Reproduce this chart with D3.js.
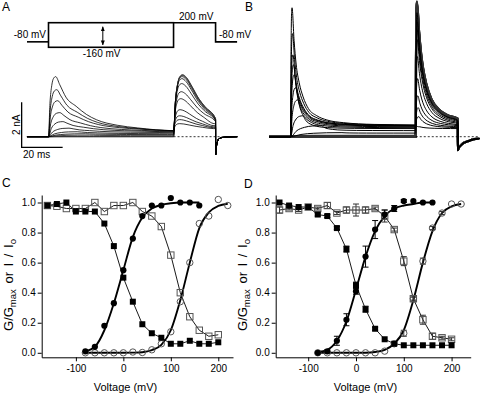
<!DOCTYPE html>
<html>
<head>
<meta charset="utf-8">
<script src="https://cdn.jsdelivr.net/npm/d3@7"></script>
<style>
  body { margin: 0; background: #fff; }
  svg { display: block; font-family: "Liberation Sans", Arial, Helvetica, sans-serif; }
</style>
</head>
<body>
<svg id="fig" width="480" height="394"></svg>
<script>
// ---------------- voltage protocol (mV, ms) ----------------
const holdingMv = -80;
const prepulseRangeMv = [-160, 200];
const testMv = 200;
const stepTimes = [0, 61, 81.5];      // prepulse on, test on, test off
const sweepSpan = [-10.5, 92];
const arrowAt = { t: 26.5, mv: [140, -125] };

// ---------------- panel A traces (nA), one entry per prepulse, low -> high voltage ----------------
const aPrePeak  = [0, 0, 0.02, 0.07, 0.13, 0.22, 0.38, 0.67, 1.07, 1.6, 2.09, 2.67];
const aPreTpk   = [20, 20, 25, 20, 18, 14, 10, 7, 5.5, 4.5, 4, 3.5];
const aPreEnd   = [0, 0, 0.02, 0.04, 0.09, 0.13, 0.18, 0.22, 0.24, 0.27, 0.27, 0.27];
const aTestPeak = [2.76, 2.73, 2.71, 2.67, 2.58, 2.36, 2.0, 1.69, 1.2, 0.93, 0.76, 0.58];
const aTestTpk  = [4.4, 4.4, 4.3, 4.2, 4.1, 4, 3.8, 3.5, 3.2, 3, 3, 3];
const aTestEnd  = [0.8, 0.8, 0.78, 0.76, 0.73, 0.71, 0.67, 0.58, 0.49, 0.44, 0.4, 0.36];
// shared time courses read from the largest sweep
const aPreDecayDt   = [0, 2, 5, 10, 15, 20, 30, 40, 58];
const aPreDecayFrac = [1, 0.85, 0.62, 0.45, 0.3, 0.2, 0.1, 0.05, 0];
const aTestDecayDt   = [0, 2, 4.6, 8, 11, 16.5];
const aTestDecayFrac = [1, 0.93, 0.73, 0.45, 0.27, 0];
const aTailDt = [0, 0.3, 0.8, 1.5, 3, 6, 10.5];
const aTailI  = [-0.8, -0.5, -0.25, -0.1, -0.04, -0.01, 0];

// ---------------- panel B traces (nA) ----------------
const bPrePeak  = [0, 0, 0, 0.02, 0.04, 0.18, 0.49, 0.93, 1.64, 2.18, 2.76, 3.2, 3.64, 4.58, 5.73];
const bPreTpk   = [10, 10, 10, 20, 25, 25, 15, 6, 3.5, 2.5, 1.8, 1.4, 1.1, 0.9, 0.65];
const bPreEnd   = [0, 0, 0, 0.02, 0.04, 0.16, 0.27, 0.36, 0.4, 0.44, 0.47, 0.49, 0.49, 0.51, 0.52];
const bTestPeak = [6.0, 6.0, 5.96, 5.91, 5.78, 5.51, 5.11, 4.76, 4.31, 3.56, 2.58, 1.82, 1.29, 0.89, 0.44];
const bTestTpk  = [0.6, 0.6, 0.6, 0.6, 0.6, 0.6, 0.7, 0.7, 0.8, 0.8, 0.9, 1, 1.2, 1.5, 2];
const bTestEnd  = [0.8, 0.8, 0.8, 0.78, 0.76, 0.73, 0.71, 0.67, 0.62, 0.58, 0.53, 0.49, 0.44, 0.4, 0.36];
const bPreDecayDt   = [0, 1, 2, 3.5, 5.4, 8, 12, 17, 25, 40, 60];
const bPreDecayFrac = [1, 0.72, 0.52, 0.36, 0.24, 0.14, 0.08, 0.043, 0.02, 0.005, 0];
const bTestDecayDt   = [0, 1, 2, 3, 4.5, 7, 11, 15, 20];
const bTestDecayFrac = [1, 0.75, 0.56, 0.43, 0.3, 0.17, 0.075, 0.03, 0];
const bTailDt = [0, 0.5, 1.5, 3, 5, 8, 10.5];
const bTailI  = [-0.6, -0.49, -0.38, -0.27, -0.2, -0.11, -0.08];

// rising phase shape (fraction of time-to-peak, fraction of amplitude)
const riseT = [0, 0.2, 0.45, 0.7, 1];
const riseI = [0, 0.55, 0.85, 0.97, 1];

// scale bar for A and B
const scaleBarOrigin = [-13.1, -0.47];   // ms, nA
const scaleBarSize = [20, 2];            // ms, nA

// ---------------- panels C and D ----------------
const sqMv = [-160, -140, -120, -100, -80, -60, -40, -20, 0, 20, 40, 60, 80, 100, 120, 140, 160, 180, 200];
const actMv = [-80, -60, -40, -20, 0, 20, 40, 60, 80, 100, 120, 140, 160];
const openMv = [-80, -60, -40, -20, 0, 20, 40, 60, 80, 100, 120, 140, 160, 180, 200, 220];

const cFilledSq = [0.98, 0.99, 1.0, 0.94, 0.94, 0.94, 0.86, 0.71, 0.50, 0.34, 0.19, 0.13, 0.10, 0.06, 0.06, 0.08, 0.06, 0.06, 0.07];
const cOpenSq   = [0.98, 0.975, 0.96, 0.96, 0.96, 1.0, 0.94, 0.98, 0.98, 1.0, 0.94, 0.91, 0.84, 0.65, 0.40, 0.24, 0.15, 0.11, 0.12];
const cFilledCirc = [0.01, 0.04, 0.18, 0.33, 0.55, 0.76, 0.91, 0.98, 0.98, 1.03, 1.0, 1.0, 0.98];
const cOpenCirc   = [0, 0, 0, 0, 0, 0.005, 0.002, 0.02, 0.06, 0.14, 0.34, 0.6, 0.86, 0.91, 1.02, 0.98];
const cFitAct  = [0.01, 0.04, 0.15, 0.33, 0.55, 0.77, 0.9, 0.96, 0.985, 0.995, 1, 1, 1];
const cFitOpen = [0, 0, 0, 0, 0, 0.001, 0.004, 0.018, 0.053, 0.15, 0.35, 0.6, 0.83, 0.935, 0.977, 0.992];

const dFilledSq    = [1.0, 0.98, 0.97, 0.97, 0.92, 0.91, 0.83, 0.69, 0.45, 0.29, 0.16, 0.09, 0.06, 0.05, 0.05, 0.05, 0.05, 0.05, 0.05];
const dFilledSqErr = [0, 0, 0, 0, 0.01, 0.01, 0.01, 0.02, 0.02, 0.02, 0.01, 0, 0, 0, 0, 0, 0, 0, 0];
const dOpenSq      = [0.95, 0.96, 0.95, 0.97, 0.96, 0.98, 0.93, 0.95, 0.95, 0.95, 0.96, 0.91, 0.82, 0.61, 0.36, 0.22, 0.11, 0.10, 0.09];
const dOpenSqErr   = [0.02, 0.01, 0.01, 0.01, 0.01, 0.02, 0.01, 0.02, 0.04, 0.02, 0.01, 0.04, 0.01, 0.03, 0.02, 0.03, 0.02, 0.01, 0.01];
const dFilledCirc    = [0, 0.01, 0.08, 0.22, 0.41, 0.64, 0.82, 0.92, 0.96, 1.01, 1.01, 1.0, 1.0];
const dFilledCircErr = [0, 0.01, 0.03, 0.04, 0.02, 0.07, 0.06, 0.03, 0.02, 0.01, 0, 0, 0];
const dOpenCirc    = [0, 0, 0, 0, 0, 0, 0, 0.011, 0.06, 0.13, 0.36, 0.61, 0.83, 0.93, 0.99, 0.99];
const dOpenCircErr = [0, 0, 0, 0, 0, 0, 0, 0, 0.01, 0.02, 0.01, 0.02, 0.01, 0.01, 0, 0];
const dFitAct  = [0.005, 0.02, 0.08, 0.21, 0.42, 0.64, 0.81, 0.91, 0.96, 0.98, 0.99, 1.0, 1.0];
const dFitOpen = [0, 0, 0, 0, 0, 0, 0.005, 0.02, 0.06, 0.15, 0.35, 0.6, 0.81, 0.93, 0.975, 0.99];

const xTicks = [-100, 0, 100, 200];
const yTicks = [0, 0.2, 0.4, 0.6, 0.8, 1.0];

// ================= drawing =================
const svg = d3.select("#fig");

function letter(t, x, y) {
  svg.append("text").attr("x", x).attr("y", y).attr("font-size", 12).text(t);
}
letter("A", 2, 11);
letter("B", 245, 11);
letter("C", 2, 187);
letter("D", 244, 188);

// ---- protocol (panel A top) ----
const xA = d3.scaleLinear().domain([0, 20]).range([48.5, 89.5]);
const vScale = d3.scaleLinear().domain(prepulseRangeMv).range([47.3, 22.7]);
const proto = svg.append("g").attr("fill", "none").attr("stroke", "#000").attr("stroke-width", 1.6);
proto.append("path").attr("d", d3.line()([
  [xA(sweepSpan[0]), vScale(holdingMv)], [xA(stepTimes[0]), vScale(holdingMv)]
]));
proto.append("rect")
  .attr("x", xA(stepTimes[0])).attr("y", vScale(prepulseRangeMv[1]))
  .attr("width", xA(stepTimes[1]) - xA(stepTimes[0]))
  .attr("height", vScale(prepulseRangeMv[0]) - vScale(prepulseRangeMv[1]));
proto.append("path").attr("d", d3.line()([
  [xA(stepTimes[1]), vScale(testMv)], [xA(stepTimes[2]), vScale(testMv)],
  [xA(stepTimes[2]), vScale(holdingMv)], [xA(sweepSpan[1]), vScale(holdingMv)]
]));

svg.append("defs").append("marker")
  .attr("id", "ah").attr("viewBox", "0 0 10 10").attr("refX", 9).attr("refY", 5)
  .attr("markerWidth", 5).attr("markerHeight", 5).attr("orient", "auto-start-reverse")
  .append("path").attr("d", "M0,1L10,5L0,9Z").attr("fill", "#000");
svg.append("line")
  .attr("x1", xA(arrowAt.t)).attr("x2", xA(arrowAt.t))
  .attr("y1", vScale(arrowAt.mv[0])).attr("y2", vScale(arrowAt.mv[1]))
  .attr("stroke", "#000").attr("stroke-width", 1)
  .attr("marker-start", "url(#ah)").attr("marker-end", "url(#ah)");

const protoLabels = [
  { t: "-80 mV", x: 46, y: 38.3, a: "end" },
  { t: "-160 mV", x: 82.7, y: 56.7, a: "start" },
  { t: "200 mV", x: 179, y: 20, a: "start" },
  { t: "-80 mV", x: 219, y: 38.3, a: "start" }
];
svg.selectAll(".plab").data(protoLabels).enter().append("text")
  .attr("x", d => d.x).attr("y", d => d.y).attr("text-anchor", d => d.a)
  .attr("font-size", 10).text(d => d.t);

// ---- current traces ----
function tracePoints(d, i) {
  const [tOn, tTest, tOff] = stepTimes;
  const pts = [[sweepSpan[0], 0], [tOn, 0]];
  riseT.forEach((f, k) => { if (k > 0) pts.push([tOn + f * d.preTpk[i], d.prePeak[i] * riseI[k]]); });
  d.preDecayDt.forEach((dt, k) => {
    const t = tOn + d.preTpk[i] + dt;
    if (k > 0 && t < tTest - 0.4)
      pts.push([t, d.preEnd[i] + (d.prePeak[i] - d.preEnd[i]) * d.preDecayFrac[k]]);
  });
  pts.push([tTest, d.preEnd[i]]);
  riseT.forEach((f, k) => {
    if (k > 0) pts.push([tTest + f * d.testTpk[i], d.preEnd[i] + (d.testPeak[i] - d.preEnd[i]) * riseI[k]]);
  });
  d.testDecayDt.forEach((dt, k) => {
    const t = tTest + d.testTpk[i] + dt;
    if (k > 0 && t < tOff - 0.3)
      pts.push([t, d.testEnd[i] + (d.testPeak[i] - d.testEnd[i]) * d.testDecayFrac[k]]);
  });
  pts.push([tOff, d.testEnd[i]]);
  d.tailDt.forEach((dt, k) => pts.push([tOff + 0.03 + dt, d.tailI[k]]));
  pts.push([sweepSpan[1], d.tailI[d.tailI.length - 1]]);
  return pts;
}

function drawTraces(d, x, y, smallWidth, bigWidth) {
  const line = d3.line().x(p => x(p[0])).y(p => y(p[1])).curve(d3.curveMonotoneX);
  const g = svg.append("g").attr("fill", "none").attr("stroke", "#000");
  d.prePeak.forEach((pk, i) => {
    g.append("path").attr("d", line(tracePoints(d, i)))
      .attr("stroke-width", pk < 0.1 ? smallWidth : bigWidth)
      .attr("stroke", pk < 0.1 ? "#333" : "#000");
  });
  svg.append("line")
    .attr("x1", x(stepTimes[1])).attr("x2", x(sweepSpan[1]))
    .attr("y1", y(0)).attr("y2", y(0))
    .attr("stroke", "#000").attr("stroke-width", 0.8).attr("stroke-dasharray", "2,2");
}

const yA = d3.scaleLinear().domain([0, 2]).range([136.7, 91.7]);
drawTraces({
  prePeak: aPrePeak, preTpk: aPreTpk, preEnd: aPreEnd,
  testPeak: aTestPeak, testTpk: aTestTpk, testEnd: aTestEnd,
  preDecayDt: aPreDecayDt, preDecayFrac: aPreDecayFrac,
  testDecayDt: aTestDecayDt, testDecayFrac: aTestDecayFrac,
  tailDt: aTailDt, tailI: aTailI
}, xA, yA, 0.9, 0.8);

const xB = d3.scaleLinear().domain([0, 20]).range([290.7, 331.7]);
const yB = d3.scaleLinear().domain([0, 2]).range([136.7, 91.7]);
drawTraces({
  prePeak: bPrePeak, preTpk: bPreTpk, preEnd: bPreEnd,
  testPeak: bTestPeak, testTpk: bTestTpk, testEnd: bTestEnd,
  preDecayDt: bPreDecayDt, preDecayFrac: bPreDecayFrac,
  testDecayDt: bTestDecayDt, testDecayFrac: bTestDecayFrac,
  tailDt: bTailDt, tailI: bTailI
}, xB, yB, 2.2, 1);

// scale bar
svg.append("path")
  .attr("d", d3.line()([
    [xA(scaleBarOrigin[0]), yA(scaleBarOrigin[1] + scaleBarSize[1])],
    [xA(scaleBarOrigin[0]), yA(scaleBarOrigin[1])],
    [xA(scaleBarOrigin[0] + scaleBarSize[0]), yA(scaleBarOrigin[1])]
  ]))
  .attr("fill", "none").attr("stroke", "#000").attr("stroke-width", 1.3);
svg.append("text")
  .attr("transform", `translate(19.5,${yA(scaleBarOrigin[1] + scaleBarSize[1] / 2)}) rotate(-90)`)
  .attr("text-anchor", "middle").attr("font-size", 10).text(scaleBarSize[1] + " nA");
svg.append("text").attr("x", 23).attr("y", 158).attr("font-size", 10).text(scaleBarSize[0] + " ms");

// ---- G-V / availability panels ----
function drawIV(o) {
  const x = d3.scaleLinear().domain(o.xDomain).range(o.xRange);
  const y = d3.scaleLinear().domain([-0.03, 1.05]).range([357.3, 195]);
  const g = svg.append("g");

  g.append("g").attr("transform", `translate(0,${y.range()[0]})`)
    .call(d3.axisBottom(x).tickValues(xTicks).tickSize(4).tickSizeOuter(0).tickPadding(4).tickFormat(d => String(d)));
  g.append("g").attr("transform", `translate(${o.xRange[0]},0)`)
    .call(d3.axisLeft(y).tickValues(yTicks).tickSize(4).tickSizeOuter(0).tickPadding(2).tickFormat(d3.format(".1f")));
  g.selectAll(".tick text").attr("font-size", 10).attr("font-family", null).attr("fill", "#000");
  g.selectAll(".domain, .tick line").attr("stroke", "#000");

  g.append("text").attr("x", o.xLabelX).attr("y", 390.5).attr("text-anchor", "middle")
    .attr("font-size", 11).text("Voltage (mV)");
  const yl = g.append("text")
    .attr("transform", `translate(${o.xRange[0] - 29},285) rotate(-90)`)
    .attr("text-anchor", "middle").attr("font-size", 13).attr("word-spacing", 2);
  yl.append("tspan").text("G/G");
  yl.append("tspan").attr("font-size", 9.5).attr("dy", 3).text("max");
  yl.append("tspan").attr("dy", -3).text(" or I / I");
  yl.append("tspan").attr("font-size", 9.5).attr("dy", 3).text("o");

  const pts = (xs, ys) => xs.map((v, i) => [v, ys[i]]);
  const thin = d3.line().x(p => x(p[0])).y(p => y(p[1]));
  const smooth = d3.line().x(p => x(p[0])).y(p => y(p[1])).curve(d3.curveMonotoneX);

  g.append("path").attr("d", thin(pts(sqMv, o.openSq))).attr("fill", "none").attr("stroke", "#000").attr("stroke-width", 0.9);
  g.append("path").attr("d", thin(pts(sqMv, o.filledSq))).attr("fill", "none").attr("stroke", "#000").attr("stroke-width", 0.9);
  g.append("path").attr("d", smooth(pts(actMv, o.fitAct))).attr("fill", "none").attr("stroke", "#000").attr("stroke-width", 1.9);
  g.append("path").attr("d", smooth(pts(openMv, o.fitOpen))).attr("fill", "none").attr("stroke", "#000").attr("stroke-width", 1.9);

  function errBars(xs, ys, es, color) {
    if (!es) return;
    xs.forEach((v, i) => {
      if (!es[i]) return;
      const cx = x(v), y0 = y(ys[i] - es[i]), y1 = y(ys[i] + es[i]);
      g.append("path").attr("d", `M${cx},${y0}V${y1}M${cx - 3},${y0}h6M${cx - 3},${y1}h6`)
        .attr("fill", "none").attr("stroke", color).attr("stroke-width", 1);
    });
  }
  errBars(sqMv, o.openSq, o.openSqErr, "#333");
  errBars(sqMv, o.filledSq, o.filledSqErr, "#000");
  errBars(actMv, o.filledCirc, o.filledCircErr, "#000");
  errBars(openMv, o.openCirc, o.openCircErr, "#333");

  g.selectAll(".osq").data(pts(sqMv, o.openSq)).enter().append("rect")
    .attr("x", p => x(p[0]) - 3.2).attr("y", p => y(p[1]) - 3.2).attr("width", 6.4).attr("height", 6.4)
    .attr("fill", "none").attr("stroke", "#555").attr("stroke-width", 1);
  g.selectAll(".ocirc").data(pts(openMv, o.openCirc)).enter().append("circle")
    .attr("cx", p => x(p[0])).attr("cy", p => y(p[1])).attr("r", 3.2)
    .attr("fill", "none").attr("stroke", "#555").attr("stroke-width", 1);
  g.selectAll(".fsq").data(pts(sqMv, o.filledSq)).enter().append("rect")
    .attr("x", p => x(p[0]) - 3).attr("y", p => y(p[1]) - 3).attr("width", 6).attr("height", 6)
    .attr("fill", "#000");
  g.selectAll(".fcirc").data(pts(actMv, o.filledCirc)).enter().append("circle")
    .attr("cx", p => x(p[0])).attr("cy", p => y(p[1])).attr("r", 3.1).attr("fill", "#000");
}

drawIV({
  xDomain: [-172, 231], xRange: [41.7, 233], xLabelX: 125.5,
  filledSq: cFilledSq, openSq: cOpenSq, filledCirc: cFilledCirc, openCirc: cOpenCirc,
  fitAct: cFitAct, fitOpen: cFitOpen
});
drawIV({
  xDomain: [-168, 240], xRange: [275.7, 470.7], xLabelX: 365.5,
  filledSq: dFilledSq, openSq: dOpenSq, filledCirc: dFilledCirc, openCirc: dOpenCirc,
  filledSqErr: dFilledSqErr, openSqErr: dOpenSqErr, filledCircErr: dFilledCircErr, openCircErr: dOpenCircErr,
  fitAct: dFitAct, fitOpen: dFitOpen
});
</script>
</body>
</html>
